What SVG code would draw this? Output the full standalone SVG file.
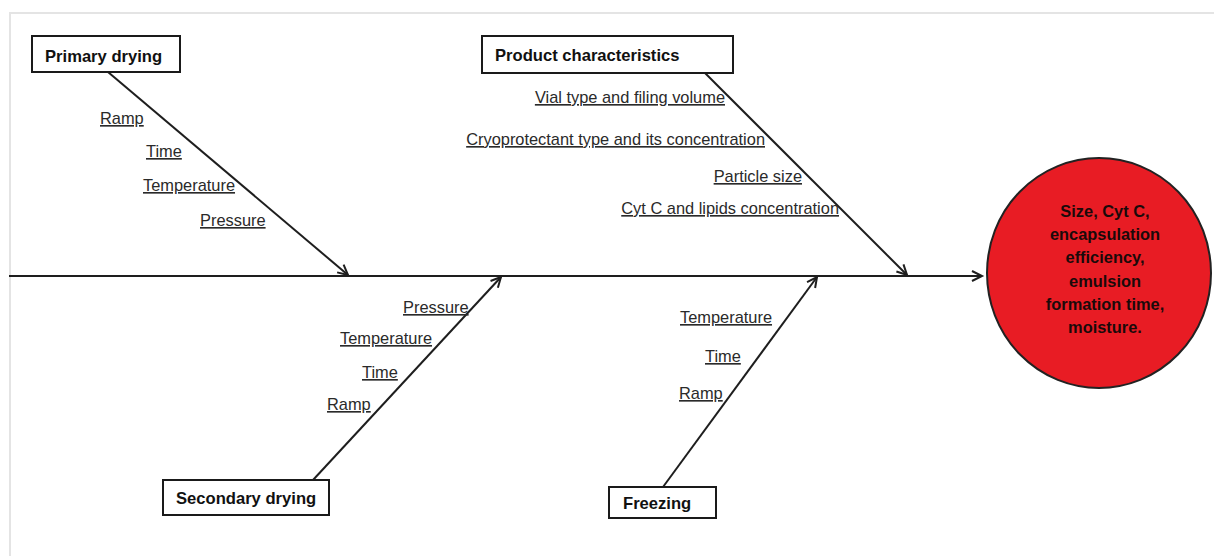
<svg xmlns="http://www.w3.org/2000/svg" width="1214" height="556" viewBox="0 0 1214 556">
<style>
.frame{stroke:#e4e4e4;stroke-width:2;fill:none}
.box{fill:#fff;stroke:#1a1a1a;stroke-width:2}
.head{font-family:"Liberation Sans",Arial,sans-serif;font-weight:bold;font-size:16.6px;fill:#111}
.lbl{font-family:"Liberation Sans",Arial,sans-serif;font-size:16.4px;fill:#2a2a2a;text-decoration:underline}
.edge{stroke:#1e1e1e;stroke-width:2;fill:none}
.out{font-family:"Liberation Sans",Arial,sans-serif;font-weight:bold;font-size:16.4px;fill:#1a0a0a;text-anchor:middle}
</style>
<defs>
<marker id="arr" markerUnits="userSpaceOnUse" markerWidth="14" markerHeight="14" refX="11" refY="6" orient="auto">
<path d="M1,1 L11,6 L1,11" fill="none" stroke="#1e1e1e" stroke-width="2"/>
</marker>
</defs>
<rect width="1214" height="556" fill="#fff"/>
<path class="frame" d="M10,556 L10,13 L1214,13"/>
<g id="connectors">
<line class="edge" x1="9" y1="276" x2="982" y2="276" marker-end="url(#arr)"/>
<line class="edge" x1="108" y1="72" x2="348" y2="275" marker-end="url(#arr)"/>
<line class="edge" x1="705" y1="73" x2="907" y2="275" marker-end="url(#arr)"/>
<line class="edge" x1="313" y1="480" x2="501" y2="277" marker-end="url(#arr)"/>
<line class="edge" x1="663" y1="487" x2="817" y2="277" marker-end="url(#arr)"/>
</g>
<g id="primary-drying">
<rect class="box" x="32" y="36" width="148" height="36"/>
<text class="head" x="45" y="62">Primary drying</text>
<text class="lbl" x="100" y="124">Ramp</text>
<text class="lbl" x="146" y="157">Time</text>
<text class="lbl" x="143" y="191">Temperature</text>
<text class="lbl" x="200" y="226">Pressure</text>
</g>
<g id="product-characteristics">
<rect class="box" x="482" y="36" width="251" height="37"/>
<text class="head" x="495" y="61">Product characteristics</text>
<text class="lbl" x="725" y="103" text-anchor="end">Vial type and filing volume</text>
<text class="lbl" x="765" y="145" text-anchor="end">Cryoprotectant type and its concentration</text>
<text class="lbl" x="802" y="182" text-anchor="end">Particle size</text>
<text class="lbl" x="839" y="214" text-anchor="end">Cyt C and lipids concentration</text>
</g>
<g id="secondary-drying">
<rect class="box" x="163" y="480" width="166" height="35"/>
<text class="head" x="176" y="504">Secondary drying</text>
<text class="lbl" x="403" y="313">Pressure</text>
<text class="lbl" x="340" y="344">Temperature</text>
<text class="lbl" x="362" y="378">Time</text>
<text class="lbl" x="327" y="410">Ramp</text>
</g>
<g id="freezing">
<rect class="box" x="609" y="487" width="107" height="31"/>
<text class="head" x="623" y="509">Freezing</text>
<text class="lbl" x="680" y="323">Temperature</text>
<text class="lbl" x="705" y="362">Time</text>
<text class="lbl" x="679" y="399">Ramp</text>
</g>
<g id="outcome">
<ellipse cx="1099" cy="273" rx="112" ry="115" fill="#e81c24" stroke="#222" stroke-width="2"/>
<text class="out" x="1105" y="217">Size, Cyt C,</text>
<text class="out" x="1105" y="240">encapsulation</text>
<text class="out" x="1105" y="263">efficiency,</text>
<text class="out" x="1105" y="287">emulsion</text>
<text class="out" x="1105" y="310">formation time,</text>
<text class="out" x="1105" y="333">moisture.</text>
</g>
</svg>
